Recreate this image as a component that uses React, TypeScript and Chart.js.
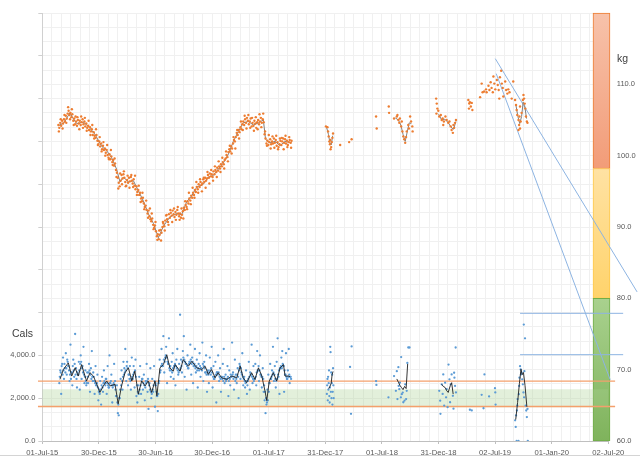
import { useEffect, useRef } from 'react';
import { Chart, registerables } from 'chart.js';

Chart.register(...registerables);

// x values are days counted from 01-Jul-15
const X_MIN = 0;
const X_MAX = 1828;
const MAJOR_STEP = 182.8;
const tickLabels = ['01-Jul-15', '30-Dec-15', '30-Jun-16', '30-Dec-16', '01-Jul-17', '31-Dec-17',
  '01-Jul-18', '31-Dec-18', '02-Jul-19', '01-Jan-20', '02-Jul-20'];

// weigh-ins (kg), one every 3 days starting at day 52
const WEIGHT_START = 52;
const WEIGHT_STEP = 3;
const weightKg = [
  104.3, 103.9, 104.6, 104.2, 104.9, 104.5, 105.1, 104.8, 105.6, 105.2,
  105.9, 106.3, 105.7, 106.0, 105.4, 105.8, 104.9, 105.2, 104.4, 104.8,
  104.2, 105.0, 104.5, 104.9, 104.3, 104.7, 105.1, 104.4, 104.8, 104.1,
  104.5, 103.9, 104.2, 103.6, 104.0, 103.4, 103.7, 102.9, 103.3, 102.8,
  102.5, 102.9, 102.1, 101.6, 102.0, 101.3, 101.7, 100.9, 101.4, 100.8,
  101.0, 100.4, 100.8, 100.1, 99.7, 100.2, 99.5, 99.9, 99.1, 99.4,
  98.6, 98.9, 98.0, 97.6, 96.9, 96.2, 95.7, 96.5, 97.3, 96.8,
  97.4, 96.9, 96.3, 95.8, 96.6, 96.2, 96.9, 96.4, 97.0, 96.5,
  96.1, 96.7, 95.8, 95.3, 95.7, 94.9, 95.2, 94.5, 94.8, 94.0,
  93.6, 94.1, 93.3, 92.8, 93.0, 92.4, 91.9, 92.3, 91.5, 91.1,
  90.8, 91.2, 90.3, 89.9, 90.2, 89.4, 88.7, 89.0, 88.3, 88.9,
  89.6, 89.2, 90.0, 90.5, 90.1, 90.9, 91.6, 91.1, 90.7, 91.8,
  91.3, 92.0, 91.6, 92.3, 91.8, 91.4, 92.1, 91.7, 92.4, 91.9,
  91.5, 91.9, 91.3, 91.7, 92.2, 92.7, 92.4, 93.1, 92.8, 93.6,
  93.3, 94.0, 93.7, 94.4, 94.1, 94.8, 94.5, 95.2, 94.9, 95.6,
  95.3, 96.0, 95.6, 96.3, 95.9, 96.1, 96.7, 96.3, 96.9, 96.5,
  96.8, 97.3, 96.9, 97.5, 97.1, 97.4, 97.0, 97.8, 97.4, 98.0,
  97.7, 98.3, 97.9, 98.5, 98.2, 98.8, 98.5, 99.1, 98.8, 99.4,
  99.6, 100.1, 99.8, 100.5, 100.9, 100.6, 101.3, 101.0, 101.7, 102.2,
  102.0, 102.6, 103.2, 102.9, 103.6, 103.3, 104.0, 103.7, 104.4, 104.8,
  104.3, 105.1, 104.6, 105.3, 104.9, 104.4, 104.8, 105.2, 104.1, 104.6,
  104.2, 104.9, 104.5, 103.9, 104.7, 105.0, 104.4, 104.8, 105.3, 104.6,
  105.1, 104.7, 103.0, 102.4, 101.7, 102.1, 101.5, 101.9, 102.3, 101.6,
  102.0, 101.7, 102.4, 101.8, 102.2, 101.4, 101.9, 101.2, 101.6, 102.1,
  101.5, 102.0, 102.4, 101.8, 102.3, 101.7, 102.1, 101.5, 101.9, 102.2,
  101.8, 102.1,
];

// in-between weigh-ins (kg), one every 6 days starting at day 53.5
const WEIGHT_B_START = 53.5;
const WEIGHT_B_STEP = 6;
const weightKgB = [
  103.4, 105.1, 103.8, 105.7, 104.6, 106.8, 105.1, 106.5, 104.3, 105.5,
  105.4, 103.7, 105.5, 103.9, 105.3, 103.5, 104.9, 102.9, 104.3, 102.4,
  103.7, 101.5, 102.6, 100.6, 101.9, 100.0, 101.5, 99.5, 100.8, 98.7,
  99.6, 97.0, 95.4, 97.5, 96.0, 97.8, 95.7, 97.2, 95.5, 97.3,
  95.6, 97.2, 94.5, 95.8, 93.5, 94.8, 92.5, 93.7, 91.3, 92.6,
  91.9, 89.7, 90.7, 88.2, 89.5, 88.1, 90.7, 89.5, 91.7, 90.3,
  92.4, 90.7, 92.6, 91.0, 92.8, 91.0, 92.6, 91.2, 93.6, 92.5,
  94.8, 93.2, 95.5, 94.1, 96.3, 94.8, 96.7, 95.0, 96.9, 95.5,
  97.7, 96.1, 98.0, 96.5, 98.5, 97.0, 99.2, 97.7, 99.7, 98.2,
  100.6, 99.2, 101.4, 100.3, 102.6, 101.0, 103.6, 102.4, 104.8, 103.6,
  105.6, 103.8, 105.7, 103.9, 105.3, 103.5, 105.4, 103.7, 105.8, 104.0,
  105.9, 103.4, 101.4, 102.9, 101.0, 102.7, 101.1, 102.8, 100.9, 102.4,
  102.5, 100.9, 102.8, 101.2, 102.6, 101.1,
];

// later, irregular weigh-ins [day, kg]
const weightLater: [number, number][] = [
  [916, 104.1], [921, 104.0], [923, 103.4], [925, 102.7], [927, 102.0], [929, 101.6], [930, 102.2],
  [931, 100.9], [933, 101.2], [935, 101.9], [937, 102.5], [939, 103.1],
  [962, 101.5], [991, 101.9], [999, 102.3], [1078, 105.5], [1080, 103.8], [1119, 106.9], [1120, 106.0],
  [1136, 105.2], [1145, 105.5], [1147, 105.7], [1150, 105.0], [1153, 104.6], [1155, 105.2], [1159, 104.1],
  [1161, 104.8], [1163, 103.4], [1166, 102.7], [1169, 102.3], [1172, 101.8], [1175, 102.6], [1177, 103.4],
  [1182, 104.3], [1184, 103.8], [1188, 105.5], [1191, 104.8], [1195, 104.1], [1196, 103.4],
  [1272, 108.0], [1273, 105.9], [1274, 107.3], [1276, 106.6], [1279, 106.3], [1282, 105.5], [1287, 105.7],
  [1290, 105.0], [1293, 105.2], [1295, 104.3], [1297, 104.8], [1302, 105.5], [1306, 105.0], [1311, 104.6],
  [1315, 104.8], [1319, 104.1], [1322, 103.6], [1326, 103.2], [1328, 104.3], [1330, 103.9], [1333, 104.6],
  [1336, 105.0],
  [1376, 107.8], [1378, 106.6], [1379, 107.3], [1381, 107.5], [1384, 106.9], [1387, 107.4], [1389, 106.4],
  [1414, 108.2], [1419, 110.1], [1422, 108.9], [1427, 109.0], [1433, 109.3], [1435, 108.9], [1441, 109.8],
  [1444, 109.2], [1448, 110.3], [1451, 109.5], [1455, 108.9], [1457, 111.1], [1460, 110.1], [1463, 109.3],
  [1468, 110.6], [1471, 109.9], [1474, 109.2], [1476, 108.0], [1478, 111.0], [1482, 111.9], [1484, 110.1],
  [1487, 109.5], [1489, 108.3], [1495, 110.4], [1498, 109.2], [1502, 108.7], [1505, 109.3], [1509, 108.9],
  [1516, 108.0], [1521, 110.4],
  [1527, 107.8], [1530, 107.1], [1532, 106.4], [1534, 105.7], [1538, 105.0], [1538, 103.6], [1540, 104.3],
  [1541, 105.5], [1543, 103.8], [1543, 106.9], [1545, 104.8], [1548, 106.0], [1552, 107.8], [1554, 108.5],
  [1556, 108.0], [1558, 107.3], [1560, 106.6], [1562, 105.5], [1565, 104.8], [1567, 104.6],
];

// weight moving average [day, kg]; null breaks the line
const weightAvg: [number, number | null][] = [
  [52, 104.2], [70, 104.6], [89, 106.0], [100, 105.2], [111, 104.5], [132, 104.7], [149, 104.1],
  [170, 103.0], [192, 101.3], [208, 100.7], [224, 99.7], [240, 98.1], [251, 96.3], [262, 97.0],
  [278, 96.3], [294, 96.5], [310, 95.1], [326, 93.7], [342, 91.9], [359, 90.5], [375, 88.5],
  [391, 90.1], [412, 91.4], [434, 91.9], [450, 91.7], [466, 93.5], [483, 94.4], [499, 95.6],
  [520, 96.0], [536, 97.0], [552, 97.2], [568, 98.1], [585, 99.0], [601, 100.2], [617, 102.0],
  [633, 103.4], [649, 104.6], [665, 104.8], [682, 104.3], [698, 104.6], [714, 105.0], [721, 102.3],
  [735, 101.8], [752, 102.0], [768, 101.4], [784, 102.0], [805, 101.8], [806, null],
  [918, 104.0], [924, 103.0], [929, 101.8], [933, 101.5], [938, 102.8], [940, null],
  [1140, 105.3], [1150, 105.0], [1158, 104.3], [1165, 103.0], [1172, 102.0], [1178, 103.2],
  [1185, 104.6], [1192, 104.5], [1194, null],
  [1280, 105.8], [1290, 105.0], [1300, 105.1], [1310, 104.7], [1320, 104.0], [1328, 103.7],
  [1336, 104.8], [1338, null],
  [1530, 107.0], [1536, 105.5], [1542, 104.5], [1548, 105.5], [1553, 107.5], [1558, 107.0], [1564, 105.2],
];

// calories eaten, one every 3 days starting at day 55
const CAL_START = 55;
const CAL_STEP = 3;
const calories = [
  2700, 3300, 2200, 3600, 3900, 2900, 3400, 4100, 3100, 3700,
  3500, 2800, 4500, 3200, 2600, 3800, 3000, 5000, 3400, 2500,
  3100, 3700, 2400, 4000, 2900, 3500, 4400, 2700, 3300, 2600,
  3200, 2700, 3600, 2300, 3400, 4200, 2800, 3000, 2200, 3500,
  2600, 3100, 1900, 2400, 2800, 1700, 3000, 2300, 3300, 2700,
  2900, 2200, 3500, 2500, 4000, 2700, 3100, 1800, 2600, 3600,
  2800, 2100, 2600, 1300, 1200, 2000, 2900, 3300, 2400, 3700,
  3400, 4300, 2800, 3700, 2600, 3100, 3500, 2400, 3900, 2900,
  3500, 2500, 3800, 2100, 1800, 2600, 3000, 3500, 2200, 2900,
  2400, 3100, 1900, 2800, 3600, 2300, 1500, 2700, 3400, 2000,
  2900, 2300, 3500, 1600, 2600, 2100, 1400, 2700, 3800, 3300,
  4300, 3500, 4900, 3200, 3900, 4400, 2700, 3600, 4800, 3300,
  3000, 3700, 4100, 2900, 3500, 2600, 3800, 4300, 3100, 3600,
  5900, 3800, 3200, 4200, 4900, 3000, 3600, 2400, 4000, 3400,
  3700, 4500, 3100, 3900, 2700, 3500, 4300, 3200, 3800, 2500,
  3600, 4100, 3000, 3400, 4600, 2800, 3700, 3200, 4000, 2300,
  3300, 2700, 3900, 3100, 4400, 2500, 3500, 2900, 3700, 1800,
  3200, 4000, 2800, 3400, 2300, 3000, 3600, 4300, 2700, 3100,
  2900, 3500, 2100, 3300, 2600, 3000, 4600, 3200, 2400, 3800,
  3100, 2700, 3400, 2000, 3600, 2900, 3200, 4100, 2600, 3000,
  2500, 3300, 2200, 2800, 3700, 2400, 3100, 4500, 2700, 3500,
  2900, 3600, 2600, 4200, 3300, 2800, 4000, 3100, 2500, 3400,
  2300, 1900, 1300, 1700, 2400, 3100, 2700, 3600, 2900, 3300,
  4400, 2800, 3500, 2500, 3700, 4800, 3000, 2200, 3400, 3900,
  4200, 3500, 2300, 3100, 4100, 2900, 3300, 4300, 2700, 3000,
];

// in-between calorie logs, one every 3 days starting at day 56.5
const CAL_B_START = 56.5;
const CAL_B_STEP = 3;
const caloriesB = [
  3000, 3200, 3500, 3100, 3300, 3600, 3200, 3400, 3800, 3500,
  3300, 3100, 2900, 3200, 3500, 3300, 3600, 3100, 2900, 3200,
  3100, 3300, 3600, 3700, 3400, 3200, 3100, 3000, 2800, 2700,
  3000, 3200, 3300, 3100, 2900, 3000, 3200, 2800, 2700, 2600,
  2700, 2500, 2300, 2200, 2400, 2600, 2500, 2700, 2800, 2600,
  2900, 2700, 2600, 2500, 2700, 2800, 2600, 2500, 2700, 2600,
  2400, 2100, 1800, 1700, 2000, 2400, 2600, 2800, 3000, 3100,
  3200, 3300, 3500, 3400, 3100, 2900, 2800, 2900, 3000, 3100,
  3200, 3300, 3000, 2600, 2300, 2200, 2400, 2600, 2800, 2900,
  2700, 2600, 2500, 2700, 2800, 2900, 2600, 2400, 2300, 2200,
  2400, 2600, 2800, 2700, 2300, 2100, 2200, 2800, 3200, 3500,
  3600, 3500, 3800, 3700, 4000, 3900, 3700, 3600, 3400, 3500,
  3300, 3200, 3400, 3500, 3600, 3500, 3400, 3300, 3200, 3300,
  3400, 3500, 3700, 3900, 3800, 3700, 3600, 3500, 3400, 3600,
  3700, 3800, 3600, 3700, 3500, 3600, 3400, 3500, 3300, 3400,
  3300, 3500, 3400, 3300, 3600, 3500, 3400, 3200, 3100, 3200,
  3100, 3200, 3300, 3400, 3200, 3000, 2900, 3000, 3100, 3200,
  3100, 3200, 3000, 2900, 3000, 2900, 2800, 3000, 2900, 2800,
  2900, 3000, 2800, 2900, 3100, 3000, 3100, 2900, 3000, 2800,
  2900, 3100, 3000, 3300, 3500, 3400, 3100, 3000, 2900, 2800,
  2700, 2800, 2600, 2900, 3000, 3200, 3100, 3000, 2900, 2800,
  2900, 3000, 3200, 3300, 3500, 3300, 3100, 3000, 3000, 2900,
  2600, 2300, 2000, 1800, 1900, 2300, 2700, 2900, 3000, 3100,
  3200, 3100, 2900, 2800, 2900, 3100, 3300, 3400, 3500, 3400,
  3600, 3500, 3300, 3100, 3000, 2900, 3000, 3100, 3000, 2900,
];

// later, irregular calorie logs [day, kcal]
const caloriesLater: [number, number][] = [
  [919, 2200], [920, 2600], [921, 2900], [922, 1900], [923, 3000], [924, 2400], [925, 2700], [926, 3300],
  [927, 2100], [928, 1800], [929, 2500], [930, 4400], [931, 4150], [932, 2300], [933, 3200], [934, 2000],
  [935, 2700], [936, 3100], [937, 1700], [938, 2300], [939, 3400], [940, 2600], [941, 2000],
  [994, 3460], [997, 1270], [999, 4420], [1078, 2800], [1079, 2620],
  [1118, 2040], [1136, 3035], [1142, 2345], [1145, 3265], [1147, 1960], [1150, 3450], [1151, 2575],
  [1153, 2420], [1155, 2725], [1158, 2040], [1159, 3920], [1161, 2190], [1164, 2265], [1166, 1810],
  [1170, 1890], [1172, 2650], [1175, 1960], [1177, 2345], [1179, 3650], [1182, 4370], [1186, 4370],
  [1282, 2345], [1285, 1885], [1286, 1270], [1290, 2650], [1293, 2200], [1295, 3110], [1298, 1655],
  [1301, 2725], [1304, 2040], [1306, 2420], [1309, 1580], [1312, 3570], [1315, 2880], [1317, 1810],
  [1319, 2650], [1322, 3110], [1326, 2110], [1328, 1510], [1330, 3190], [1331, 2960], [1333, 2575],
  [1335, 4370], [1336, 2270],
  [1381, 1460], [1387, 1430], [1419, 2160], [1425, 1530], [1428, 3110], [1443, 2085], [1462, 2470],
  [1463, 2270], [1464, 1700],
  [1527, 965], [1529, 660], [1530, 1195], [1532, 0], [1533, 1425], [1534, 1655], [1535, 1960], [1538, 0],
  [1539, 2190], [1540, 2575], [1541, 2960], [1543, 3495], [1545, 3340], [1546, 3110], [1548, 3190],
  [1550, 2880], [1552, 2650], [1554, 2270], [1555, 5440], [1556, 2040], [1557, 3265], [1559, 4800],
  [1561, 1655], [1563, 1425], [1565, 1120], [1567, 1500], [1568, 0],
];

// calorie moving average [day, kcal]; null breaks the line
const caloriesAvg: [number, number | null][] = [
  [57, 2880], [68, 3340], [84, 3650], [95, 3035], [106, 3420], [116, 3035], [127, 3570], [133, 3265],
  [143, 2805], [154, 3190], [165, 3035], [176, 2650], [186, 2270], [197, 2575], [208, 2805], [219, 2575],
  [235, 2650], [245, 1735], [256, 2575], [267, 3190], [278, 3420], [289, 2805], [299, 3265], [310, 2190],
  [321, 2805], [332, 2575], [342, 2805], [353, 2270], [364, 2805], [370, 2115], [380, 3420], [391, 3570],
  [402, 4030], [412, 3420], [423, 3265], [429, 3570], [445, 3265], [455, 3800], [472, 3495], [483, 3725],
  [499, 3420], [515, 3340], [526, 3495], [536, 3115], [547, 3340], [558, 2955], [568, 3190], [579, 2955],
  [596, 2880], [612, 3035], [628, 2955], [639, 3495], [649, 2955], [660, 2725], [676, 3190], [687, 2880],
  [698, 3420], [709, 3035], [719, 2345], [725, 1885], [733, 2805], [746, 3190], [757, 2805], [768, 3420],
  [779, 3570], [784, 3035], [795, 3035], [800, 3000], [802, null],
  [925, 2450], [929, 2550], [933, 2700], [936, 3100], [939, 3250], [941, null],
  [1145, 2900], [1150, 2750], [1155, 2600], [1160, 2500], [1165, 2400], [1170, 2550], [1175, 2450],
  [1180, 3600], [1182, null],
  [1290, 2650], [1295, 2550], [1301, 2500], [1306, 2350], [1311, 2270], [1314, 2420], [1318, 2600],
  [1322, 2725], [1327, 2190], [1329, null],
  [1529, 1000], [1535, 1800], [1541, 2700], [1546, 3350], [1550, 3100], [1554, 3200], [1559, 2600],
  [1565, 1600],
];

// calorie target band and limits
const targetSpan = [-14, 1850];
const targetBand = [1580, 2420];
const calorieLimits = [2800, 1610];

// projection lines in kg [day, kg]
const projectionA: [number, number][] = [[1463, 113.6], [1921, 80.9]];
const projectionB: [number, number][] = [[1466, 111.5], [1834, 68.6]];
const goalLines = [77.9, 72.1];
const goalSpan = [1543, 1876];

// weight bands shown as one stacked column
const BAND_DAY = 1806;
const bandRanges: [number, number][] = [[60, 80], [80, 98.2], [98.2, 120]];
const bandFills = [['#a9d18e', '#7fb35c'], ['#ffe2a3', '#ffd36b'], ['#f7c2aa', '#f29c78']];
const bandBorders = ['#70ad47', '#ffc94a', '#ed7d31'];

const asPoints = (pairs: [number, number | null][]) => pairs.map(([x, y]) => ({ x, y }));
const everyStep = (start: number, step: number, vals: number[]) => vals.map((y, i) => ({ x: start + i * step, y }));

const gradient = (c: any, top: string, bottom: string) => {
  const s = c.chart.scales.yKg;
  const raw = c.raw;
  if (!s || !raw || !Array.isArray(raw.y)) return bottom;
  const y0 = s.getPixelForValue(raw.y[1]);
  const y1 = s.getPixelForValue(raw.y[0]);
  if (!isFinite(y0) || !isFinite(y1) || y0 === y1) return bottom;
  const g = c.chart.ctx.createLinearGradient(0, y0, 0, y1);
  g.addColorStop(0, top);
  g.addColorStop(1, bottom);
  return g;
};

const flatLine = (span: number[], value: number) => span.map((x) => ({ x, y: value }));

export default function App() {
  const canvasRef = useRef<HTMLCanvasElement>(null);

  useEffect(() => {
    document.body.style.margin = '0';
    if (!canvasRef.current) return;
    Chart.defaults.font.family = '"Liberation Sans", Arial, sans-serif';

    const lineBase = { type: 'line' as const, pointRadius: 0, pointHoverRadius: 0, tension: 0, fill: false };

    const datasets: any[] = [
      {
        ...lineBase, data: asPoints(caloriesAvg), yAxisID: 'yCal', borderColor: '#1e1e1e', borderWidth: 0.9, order: 1,
      },
      {
        type: 'scatter',
        data: [
          ...everyStep(CAL_START, CAL_STEP, calories),
          ...everyStep(CAL_B_START, CAL_B_STEP, caloriesB),
          ...asPoints(caloriesLater),
        ],
        yAxisID: 'yCal', backgroundColor: '#5b9bd5', borderWidth: 0, pointRadius: 1.15, pointHoverRadius: 0, order: 2,
      },
      {
        type: 'scatter',
        data: [
          ...everyStep(WEIGHT_START, WEIGHT_STEP, weightKg),
          ...everyStep(WEIGHT_B_START, WEIGHT_B_STEP, weightKgB),
          ...asPoints(weightLater),
        ],
        yAxisID: 'yKg', backgroundColor: '#ed7d31', borderWidth: 0, pointRadius: 1.2, pointHoverRadius: 0, order: 3,
      },
      {
        ...lineBase, data: asPoints(weightAvg), yAxisID: 'yKg', borderColor: '#7f7f7f', borderWidth: 1, order: 4,
      },
      { ...lineBase, data: asPoints(projectionA), yAxisID: 'yKg', borderColor: '#8db4e2', borderWidth: 1, clip: false, order: 5 },
      { ...lineBase, data: asPoints(projectionB), yAxisID: 'yKg', borderColor: '#8db4e2', borderWidth: 1, clip: false, order: 5 },
      ...goalLines.map((g) => ({
        ...lineBase, data: flatLine(goalSpan, g), yAxisID: 'yKg', borderColor: '#8db4e2', borderWidth: 1, clip: false, order: 5,
      })),
      ...calorieLimits.map((v) => ({
        ...lineBase, data: flatLine(targetSpan, v), yAxisID: 'yCal', borderColor: '#f4a06c', borderWidth: 1.4, clip: false, order: 6,
      })),
      {
        ...lineBase, data: flatLine(targetSpan, targetBand[1]), yAxisID: 'yCal', borderWidth: 0,
        borderColor: 'rgba(0,0,0,0)', backgroundColor: 'rgba(169,208,142,0.32)', fill: { value: targetBand[0] }, order: 7,
      },
      ...bandRanges.map((r, i) => ({
        type: 'bar', data: [{ x: BAND_DAY, y: r }], yAxisID: 'yKg', xAxisID: 'x', stack: 'bands',
        barThickness: 17, borderWidth: 1, borderSkipped: false, borderColor: bandBorders[i],
        backgroundColor: (c: any) => gradient(c, bandFills[i][0], bandFills[i][1]), clip: false, order: 8,
      })),
    ];

    const gridTicks = Array.from({ length: 61 }, (_, i) => ({ value: (i * MAJOR_STEP) / 6, major: i % 6 === 0 }));

    const chart = new Chart(canvasRef.current, {
      type: 'scatter',
      data: { datasets },
      options: {
        animation: false,
        responsive: true,
        maintainAspectRatio: false,
        events: [],
        layout: { padding: { top: 5, left: 0, right: 0, bottom: 0 } },
        plugins: { legend: { display: false }, tooltip: { enabled: false } },
        scales: {
          x: {
            type: 'linear',
            min: X_MIN,
            max: X_MAX,
            offset: false,
            afterBuildTicks: (s: any) => { s.ticks = gridTicks.map((t) => ({ ...t })); },
            afterFit: (s: any) => { s.height = 18; },
            grid: {
              color: '#f0f0f0',
              offset: false,
              tickLength: 3,
              tickColor: (c: any) => (c.tick && c.tick.major ? '#bfbfbf' : 'rgba(0,0,0,0)'),
            },
            border: { color: '#bfbfbf' },
            ticks: {
              autoSkip: false,
              maxRotation: 0,
              minRotation: 0,
              padding: 4,
              color: '#595959',
              font: { size: 7.7 },
              callback: (v: any, i: number, ticks: any[]) =>
                ticks[i] && ticks[i].major ? tickLabels[Math.round(Number(v) / MAJOR_STEP)] : '',
            },
          },
          yCal: {
            type: 'linear',
            position: 'left',
            min: 0,
            max: 20000,
            beginAtZero: false,
            afterFit: (s: any) => { s.width = 42.3; },
            grid: { drawOnChartArea: false, tickLength: 4, tickColor: '#d0d0d0' },
            border: { color: '#d0d0d0' },
            ticks: {
              stepSize: 2000,
              padding: 3,
              color: '#595959',
              font: { size: 7.5 },
              callback: (v: any) => (Number(v) <= 4000
                ? Number(v).toLocaleString('en-US', { minimumFractionDigits: 1, maximumFractionDigits: 1 })
                : ''),
            },
          },
          yKg: {
            type: 'linear',
            position: 'right',
            min: 60,
            max: 120,
            stacked: false,
            beginAtZero: false,
            afterFit: (s: any) => { s.width = 31.7; },
            grid: { color: '#f0f0f0', drawTicks: false },
            border: { display: false },
            ticks: {
              stepSize: 2,
              padding: 8.5,
              color: '#595959',
              font: { size: 7.5 },
              callback: (v: any) => (Number(v) % 10 === 0 && Number(v) < 120 ? Number(v).toFixed(1) : ''),
            },
          },
        },
      } as any,
    });

    return () => chart.destroy();
  }, []);

  return (
    <div style={{ position: 'relative', width: 640, height: 459, background: '#fff', fontFamily: '"Liberation Sans", Arial, sans-serif' }}>
      <canvas ref={canvasRef} />
      <span style={{ position: 'absolute', left: 12, top: 327, fontSize: 10.5, lineHeight: '12px', color: '#404040' }}>Cals</span>
      <span style={{ position: 'absolute', left: 617, top: 52, fontSize: 10.5, lineHeight: '12px', color: '#404040' }}>kg</span>
      <div style={{ position: 'absolute', left: 0, top: 455, width: 640, height: 1, background: '#d4d4d4' }} />
    </div>
  );
}
